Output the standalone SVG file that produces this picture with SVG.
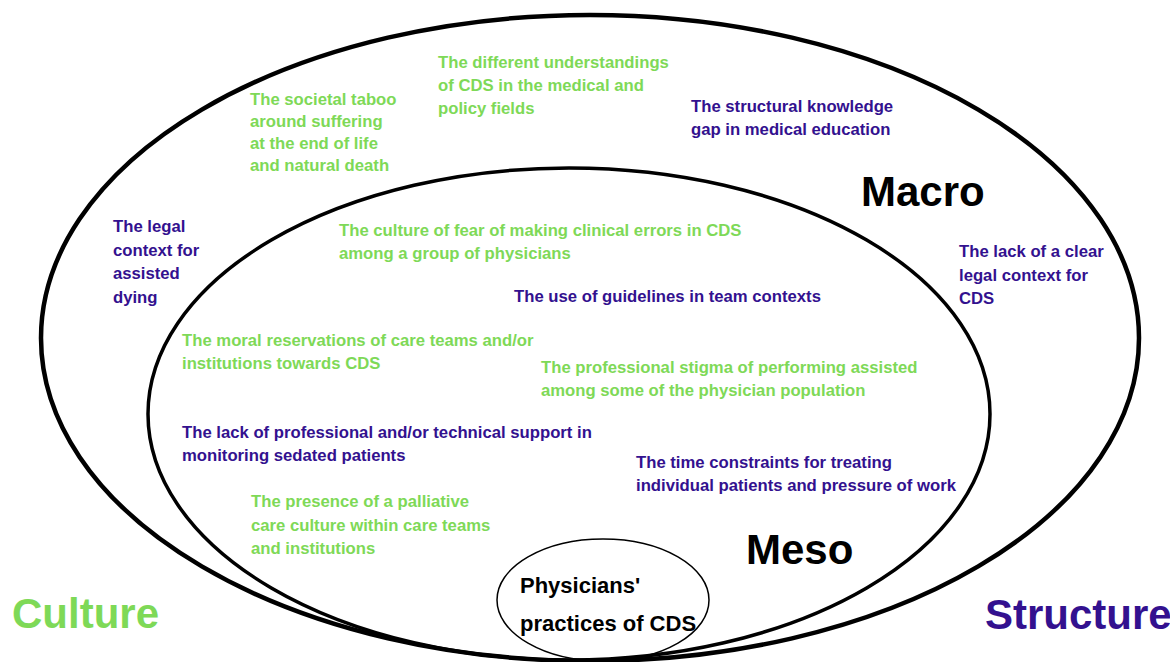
<svg xmlns="http://www.w3.org/2000/svg" width="1170" height="662" viewBox="0 0 1170 662">
<style>
text{font-family:"Liberation Sans",Arial,sans-serif;font-weight:bold}
.g{fill:#7ed957;font-size:16.7px}
.p{fill:#33118f;font-size:16.7px}
.lvl{fill:#000;font-size:42px}
.ring{fill:none;stroke:#000}
</style>
<rect width="1170" height="662" fill="#fff"/>
<g id="macro">
<ellipse class="ring" cx="590" cy="338" rx="549" ry="323" stroke-width="4.5"/>
<text class="lvl" x="861" y="206">Macro</text>
</g>
<g id="meso">
<ellipse class="ring" cx="569" cy="414" rx="421" ry="246" stroke-width="3.5"/>
<text class="lvl" x="746" y="564">Meso</text>
</g>
<g id="micro">
<ellipse class="ring" cx="603" cy="600" rx="106" ry="61" stroke-width="1.5" fill="#fff"/>
<text x="520" y="593" font-size="22" fill="#000">Physicians'</text>
<text x="520" y="631" font-size="22" fill="#000">practices of CDS</text>
</g>
<g id="culture-label"><text x="12" y="628" font-size="42" fill="#7ed957">Culture</text></g>
<g id="structure-label"><text x="985" y="629" font-size="42" fill="#33118f">Structure</text></g>
<g id="taboo"><text class="g" x="250" y="105">The societal taboo<tspan x="250" dy="22">around suffering</tspan><tspan x="250" dy="22">at the end of life</tspan><tspan x="250" dy="22">and natural death</tspan></text></g>
<g id="understandings"><text class="g" x="438" y="68">The different understandings<tspan x="438" dy="23">of CDS in the medical and</tspan><tspan x="438" dy="23">policy fields</tspan></text></g>
<g id="knowledge-gap"><text class="p" x="691" y="112">The structural knowledge<tspan x="691" dy="23">gap in medical education</tspan></text></g>
<g id="legal-assisted"><text class="p" x="113" y="232">The legal<tspan x="113" dy="23.5">context for</tspan><tspan x="113" dy="23.5">assisted</tspan><tspan x="113" dy="23.5">dying</tspan></text></g>
<g id="legal-cds"><text class="p" x="959" y="257">The lack of a clear<tspan x="959" dy="23.5">legal context for</tspan><tspan x="959" dy="23.5">CDS</tspan></text></g>
<g id="fear"><text class="g" x="339" y="236">The culture of fear of making clinical errors in CDS<tspan x="339" dy="23">among a group of physicians</tspan></text></g>
<g id="guidelines"><text class="p" x="514" y="302">The use of guidelines in team contexts</text></g>
<g id="moral"><text class="g" x="182" y="346">The moral reservations of care teams and/or<tspan x="182" dy="23">institutions towards CDS</tspan></text></g>
<g id="stigma"><text class="g" x="541" y="373">The professional stigma of performing assisted<tspan x="541" dy="23">among some of the physician population</tspan></text></g>
<g id="support"><text class="p" x="182" y="438">The lack of professional and/or technical support in<tspan x="182" dy="23">monitoring sedated patients</tspan></text></g>
<g id="time"><text class="p" x="636" y="468">The time constraints for treating<tspan x="636" dy="23">individual patients and pressure of work</tspan></text></g>
<g id="palliative"><text class="g" x="251" y="507">The presence of a palliative<tspan x="251" dy="23.5">care culture within care teams</tspan><tspan x="251" dy="23.5">and institutions</tspan></text></g>
<g id="connectors"></g>
</svg>
